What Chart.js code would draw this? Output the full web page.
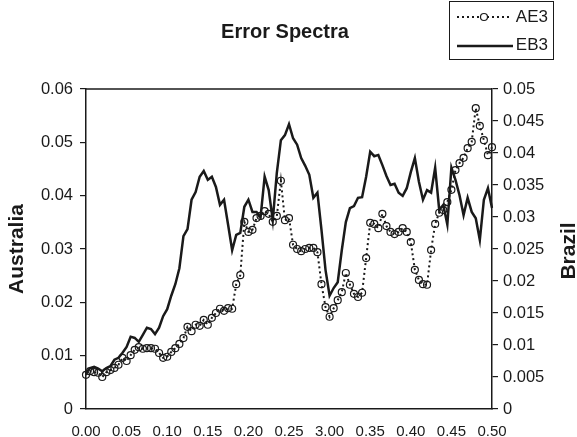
<!DOCTYPE html>
<html>
<head>
<meta charset="utf-8">
<script src="https://cdn.jsdelivr.net/npm/chart.js@4/dist/chart.umd.min.js"></script>
<style>
  html, body { margin: 0; padding: 0; background: #fff; }
  #wrap { width: 577px; height: 437px; }
</style>
</head>
<body>
<div id="wrap"><canvas id="spectra" width="577" height="437"></canvas></div>
<script>
// x axis: 101 frequencies, labelled every tenth point (the source prints "3.00" for 0.30)
const xTickLabels = ['0.00', '0.05', '0.10', '0.15', '0.20', '0.25', '3.00', '0.35', '0.40', '0.45', '0.50'];
const frequencies = Array.from({ length: 101 }, (_, i) => (i * 0.005).toFixed(3));

// AE3 - left axis (Australia)
const ae3 = [
  0.0064, 0.0071, 0.0069, 0.0068, 0.0060, 0.0069, 0.0073, 0.0077, 0.0083, 0.0096,
  0.0090, 0.0101, 0.0111, 0.0116, 0.0113, 0.0114, 0.0114, 0.0113, 0.0105, 0.0096,
  0.0098, 0.0107, 0.0114, 0.0122, 0.0133, 0.0154, 0.0146, 0.0158, 0.0156, 0.0167,
  0.0158, 0.0171, 0.0180, 0.0188, 0.0184, 0.0189, 0.0188, 0.0234, 0.0251, 0.0351,
  0.0332, 0.0336, 0.0358, 0.0362, 0.0371, 0.0366, 0.0351, 0.0362, 0.0428, 0.0354,
  0.0358, 0.0308, 0.0300, 0.0296, 0.0300, 0.0302, 0.0302, 0.0294, 0.0234, 0.0191,
  0.0173, 0.0189, 0.0204, 0.0219, 0.0255, 0.0233, 0.0216, 0.0210, 0.0218, 0.0283,
  0.0349, 0.0347, 0.0339, 0.0366, 0.0343, 0.0332, 0.0328, 0.0332, 0.0339, 0.0332,
  0.0313, 0.0261, 0.0242, 0.0234, 0.0233, 0.0298, 0.0347, 0.0368, 0.0373, 0.0388,
  0.0411, 0.0448, 0.0461, 0.0471, 0.0489, 0.0501, 0.0564, 0.0531, 0.0504, 0.0476,
  0.0491
];

// EB3 - right axis (Brazil)
const eb3 = [
  0.0056, 0.0064, 0.0066, 0.0063, 0.0059, 0.0064, 0.0067, 0.0077, 0.0080, 0.0088,
  0.0097, 0.0113, 0.0111, 0.0105, 0.0116, 0.0127, 0.0125, 0.0117, 0.0127, 0.0145,
  0.0156, 0.0177, 0.0195, 0.0220, 0.0270, 0.0281, 0.0327, 0.0339, 0.0363, 0.0372,
  0.0358, 0.0363, 0.0347, 0.0319, 0.0327, 0.0288, 0.0248, 0.0272, 0.0275, 0.0316,
  0.0327, 0.0308, 0.0308, 0.0300, 0.0363, 0.0342, 0.0295, 0.0369, 0.0420, 0.0428,
  0.0445, 0.0423, 0.0413, 0.0392, 0.0380, 0.0366, 0.0330, 0.0338, 0.0280, 0.0217,
  0.0177, 0.0189, 0.0198, 0.0248, 0.0292, 0.0314, 0.0317, 0.0330, 0.0331, 0.0363,
  0.0402, 0.0395, 0.0397, 0.0381, 0.0364, 0.0350, 0.0352, 0.0338, 0.0333, 0.0345,
  0.0370, 0.0392, 0.0355, 0.0327, 0.0342, 0.0338, 0.0377, 0.0311, 0.0319, 0.0288,
  0.0377, 0.0358, 0.0334, 0.0303, 0.0330, 0.0308, 0.0298, 0.0264, 0.0327, 0.0345,
  0.0314
];

const INK = '#1a1a1a';
const FONT = "'Liberation Sans', Arial, sans-serif";

// Title, legend box, axis titles and the frame around the plot
const decorations = {
  id: 'decorations',
  afterDraw(chart) {
    const ctx = chart.ctx;
    const area = chart.chartArea;
    ctx.save();

    // frame (top edge is not an axis)
    ctx.strokeStyle = INK;
    ctx.lineWidth = 1.5;
    ctx.beginPath();
    ctx.moveTo(area.left, area.top);
    ctx.lineTo(area.right, area.top);
    ctx.stroke();

    ctx.fillStyle = INK;
    ctx.textAlign = 'center';
    ctx.textBaseline = 'middle';
    ctx.font = 'bold 20px ' + FONT;
    ctx.fillText('Error Spectra', 285, 32);

    // left axis title
    ctx.save();
    ctx.translate(17, 249);
    ctx.rotate(-Math.PI / 2);
    ctx.font = 'bold 21px ' + FONT;
    ctx.fillText('Australia', 0, 0);
    ctx.restore();

    // right axis title, also reading bottom to top
    ctx.save();
    ctx.translate(569, 251);
    ctx.rotate(-Math.PI / 2);
    ctx.font = 'bold 21px ' + FONT;
    ctx.fillText('Brazil', 0, 0);
    ctx.restore();

    // legend
    ctx.lineWidth = 1;
    ctx.strokeRect(449.5, 1.5, 104, 58);

    ctx.lineWidth = 2;
    ctx.setLineDash([2, 3]);
    ctx.beginPath();
    ctx.moveTo(457, 17);
    ctx.lineTo(512, 17);
    ctx.stroke();
    ctx.setLineDash([]);
    ctx.lineWidth = 1.2;
    ctx.beginPath();
    ctx.arc(484, 17, 3.5, 0, Math.PI * 2);
    ctx.fillStyle = '#fff';
    ctx.fill();
    ctx.stroke();

    ctx.lineWidth = 2.5;
    ctx.beginPath();
    ctx.moveTo(457, 46);
    ctx.lineTo(513, 46);
    ctx.stroke();

    ctx.fillStyle = INK;
    ctx.textAlign = 'right';
    ctx.font = '17px ' + FONT;
    ctx.fillText('AE3', 548, 17);
    ctx.fillText('EB3', 548, 45);

    ctx.restore();
  }
};

new Chart(document.getElementById('spectra'), {
  type: 'line',
  data: {
    labels: frequencies,
    datasets: [
      {
        label: 'AE3',
        data: ae3,
        yAxisID: 'y',
        borderColor: INK,
        borderWidth: 2,
        borderDash: [2, 3],
        pointRadius: 3.5,
        pointBorderWidth: 1.2,
        pointBorderColor: INK,
        pointBackgroundColor: 'rgba(0,0,0,0)',
        tension: 0,
      },
      {
        label: 'EB3',
        data: eb3,
        yAxisID: 'y1',
        borderColor: INK,
        borderWidth: 2.5,
        pointRadius: 0,
        tension: 0,
      },
    ],
  },
  options: {
    responsive: false,
    animation: false,
    layout: { padding: { top: 89, left: 0, right: 0, bottom: 0 } },
    plugins: {
      legend: { display: false },
      title: { display: false },
      tooltip: { enabled: false },
    },
    scales: {
      x: {
        type: 'category',
        offset: false,
        grid: { display: false },
        border: { display: true, color: INK, width: 1.5 },
        ticks: {
          autoSkip: false,
          maxRotation: 0,
          padding: 6,
          color: INK,
          font: { family: FONT, size: 15 },
          callback: (val, idx) => (idx % 10 === 0 ? xTickLabels[idx / 10] : null),
        },
        afterFit: (scale) => { scale.height = 28; },
      },
      y: {
        position: 'left',
        min: 0,
        max: 0.06,
        grid: { drawOnChartArea: false, drawTicks: true, tickLength: 6, color: INK, lineWidth: 1.2 },
        border: { display: true, color: INK, width: 1.5 },
        ticks: {
          stepSize: 0.01,
          padding: 7,
          color: INK,
          font: { family: FONT, size: 16.5 },
          callback: (v) => String(+v.toFixed(2)),
        },
        afterFit: (scale) => { scale.width = 86; },
      },
      y1: {
        position: 'right',
        min: 0,
        max: 0.05,
        grid: { drawOnChartArea: false, drawTicks: true, tickLength: 6, color: INK, lineWidth: 1.2 },
        border: { display: true, color: INK, width: 1.5 },
        ticks: {
          stepSize: 0.005,
          padding: 5,
          color: INK,
          font: { family: FONT, size: 16.5 },
          callback: (v) => String(+v.toFixed(3)),
        },
        afterFit: (scale) => { scale.width = 85; },
      },
    },
  },
  plugins: [decorations],
});
</script>
</body>
</html>
